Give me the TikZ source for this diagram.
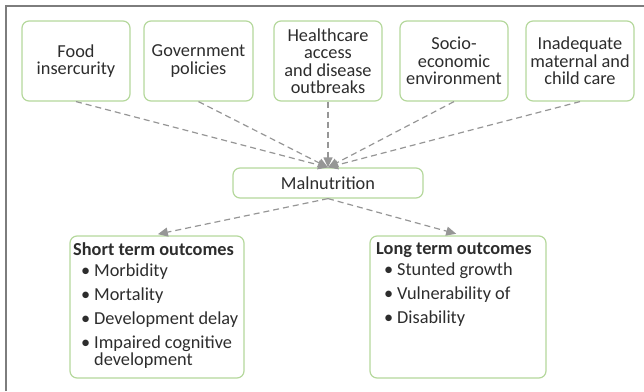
\documentclass[tikz,border=0pt]{standalone}
\usepackage{fontspec}
\setmainfont{Carlito}
\usetikzlibrary{arrows.meta}
\definecolor{boxgreen}{RGB}{181,216,156}
\definecolor{txt}{RGB}{45,45,45}
\definecolor{conn}{RGB}{150,150,150}
\definecolor{framec}{RGB}{125,125,125}
\newcommand{\bul}{\hspace*{8pt}\makebox[13pt][l]{\textbullet}}
\begin{document}
\begin{tikzpicture}[x=1pt,y=-1pt,
  box/.style={draw=boxgreen, line width=1.2pt, rounded corners=7pt, fill=white, inner sep=0pt,
    align=center, text=txt, font=\fontsize{18.3}{17.5}\selectfont},
  listtext/.style={anchor=north west, align=left, text=txt, inner sep=0pt,
    font=\fontsize{18.3}{17}\selectfont},
  link/.style={draw=conn, line width=1.2pt, dash pattern=on 6pt off 4pt,
    -{Triangle[length=10pt,width=9pt]}, color=conn}]
\useasboundingbox (0,0) rectangle (644,391);
\draw[framec, line width=1.5pt] (6,391) -- (6,6) -- (644,6);

\node[box, minimum width=108pt, minimum height=80pt] (food) at (76,61) {Food\\insercurity};
\node[box, minimum width=109pt, minimum height=80pt] (gov) at (198.5,61) {Government\\policies};
\node[box, minimum width=108pt, minimum height=80pt] (health) at (328,61) {Healthcare\\access\\and disease\\outbreaks};
\node[box, minimum width=108pt, minimum height=80pt] (socio) at (454,61) {Socio-\\economic\\environment};
\node[box, minimum width=108pt, minimum height=80pt] (inadeq) at (580,61) {Inadequate\\maternal and\\child care};

\node[box, minimum width=190pt, minimum height=30pt] (mal) at (328,183) {Malnutrition};

\node[box, minimum width=174pt, minimum height=142pt] (short) at (157,307) {};
\node[box, minimum width=176pt, minimum height=142pt] (long) at (458,307) {};

\node[listtext] (shortt) at (73,242) {\textbf{Short term outcomes}\\[4pt]
  \bul Morbidity\\[7pt]
  \bul Mortality\\[7pt]
  \bul Development delay\\[7pt]
  \bul Impaired cognitive\\
  \hspace*{21pt}development};
\node[listtext] (longt) at (376,242) {\textbf{Long term outcomes}\\[4pt]
  \bul Stunted growth\\[7pt]
  \bul Vulnerability of\\[7pt]
  \bul Disability};

\draw[link] (food.south) -- (mal.north);
\draw[link] (gov.south) -- (mal.north);
\draw[link] (health.south) -- (mal.north);
\draw[link] (socio.south) -- (mal.north);
\draw[link] (inadeq.south) -- (mal.north);
\draw[link, shorten >=6pt] (mal.south) -- ([xshift=-5pt]short.north);
\draw[link, shorten >=6pt] (mal.south) -- ([xshift=4pt]long.north);
\end{tikzpicture}
\end{document}
